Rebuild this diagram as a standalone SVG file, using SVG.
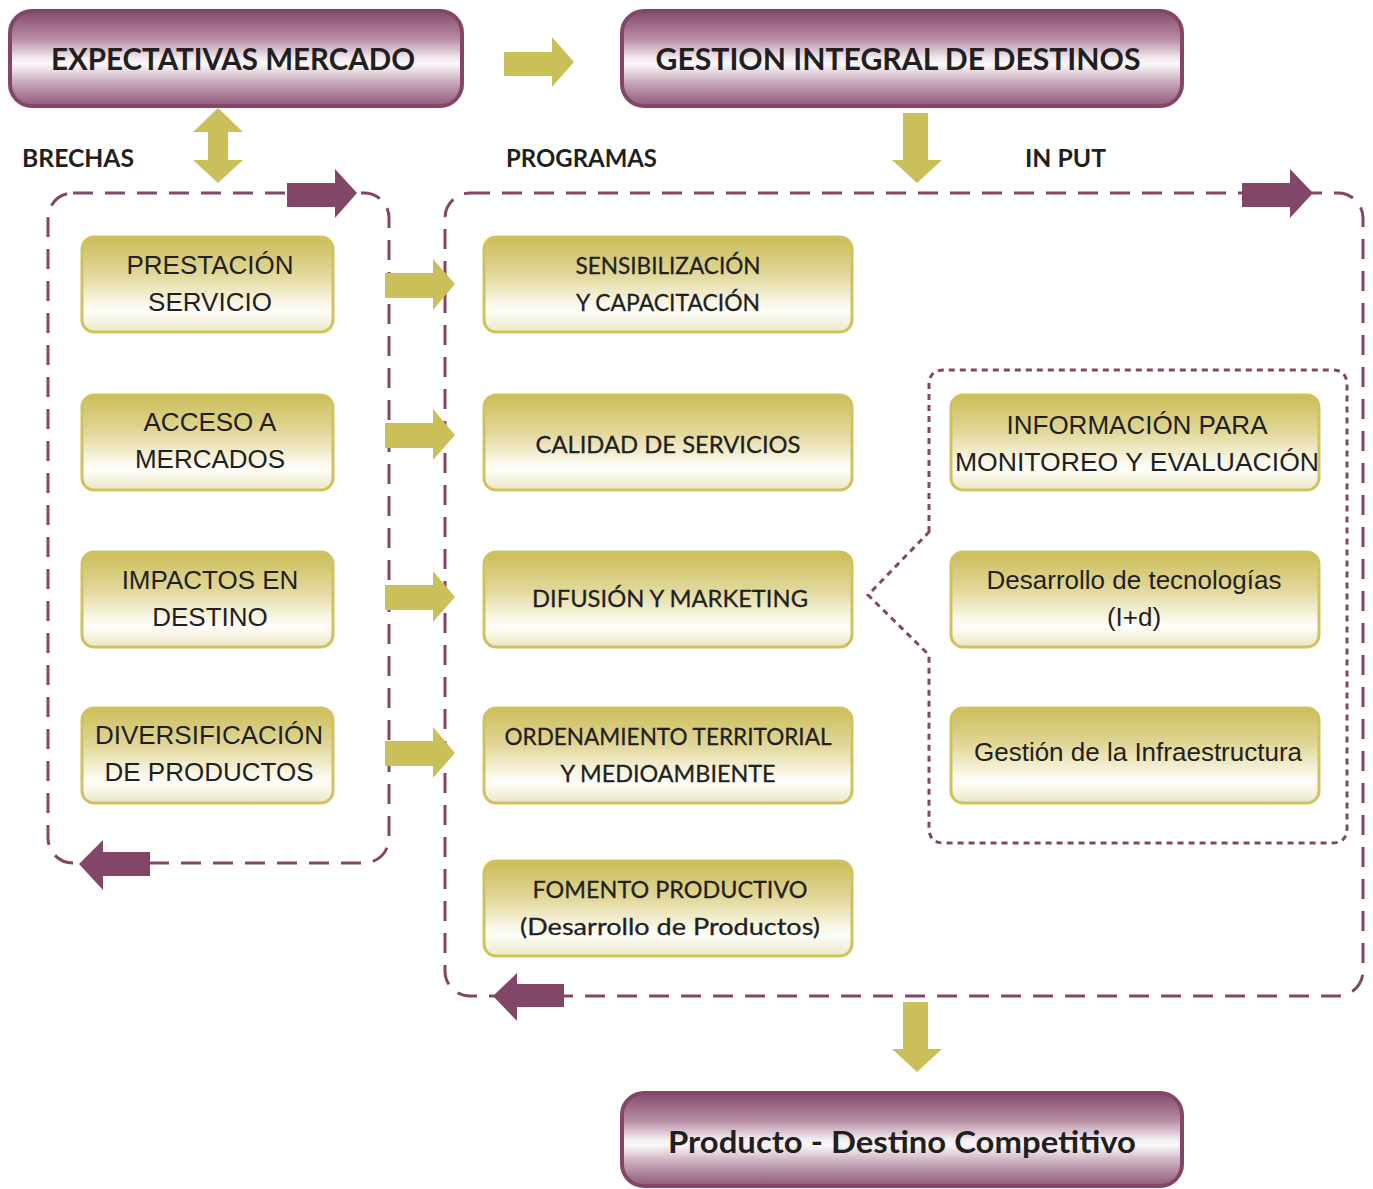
<svg xmlns="http://www.w3.org/2000/svg" width="1373" height="1189" viewBox="0 0 1373 1189">
<defs>
<linearGradient id="gp" x1="0" y1="0" x2="0" y2="1">
<stop offset="0" stop-color="#844a6c"/>
<stop offset="0.3" stop-color="#b88ea6"/>
<stop offset="0.5" stop-color="#f3ecf0"/>
<stop offset="0.56" stop-color="#fbf8fa"/>
<stop offset="0.75" stop-color="#c7a9ba"/>
<stop offset="1" stop-color="#8f5879"/>
</linearGradient>
<linearGradient id="go" x1="0" y1="0" x2="0" y2="1">
<stop offset="0" stop-color="#cbbd58"/>
<stop offset="0.4" stop-color="#e2d89b"/>
<stop offset="0.72" stop-color="#fbf9ec"/>
<stop offset="0.78" stop-color="#fefefa"/>
<stop offset="1" stop-color="#ece6c6"/>
</linearGradient>
<style>
.pbox{fill:url(#gp);stroke:#844668;stroke-width:4}
.obox{fill:url(#go);stroke:#d0c35f;stroke-width:3}
.ttl{font-family:Lato,"Open Sans",sans-serif;font-weight:bold;fill:#231f20;text-anchor:middle}
.hd{font-family:Lato,"Open Sans",sans-serif;font-weight:bold;font-size:25px;fill:#231f20}
.r{font-family:"Liberation Sans",Arial,sans-serif;font-size:26px;fill:#231f20;text-anchor:middle}
.c{font-family:Lato,"Open Sans",sans-serif;font-size:24px;fill:#231f20;text-anchor:middle;stroke:#231f20;stroke-width:0.3}
.dash{fill:none;stroke:#844668;stroke-width:3;stroke-dasharray:20 12}
.dot{fill:none;stroke:#844668;stroke-width:3;stroke-dasharray:6 5}
.oa{fill:#cbbf5a}
.pa{fill:#824668}
</style>
</defs>
<rect width="1373" height="1189" fill="#ffffff"/>

<g id="labels">
<text class="hd" x="22" y="167" textLength="112" lengthAdjust="spacingAndGlyphs">BRECHAS</text>
<text class="hd" x="506" y="167" textLength="151" lengthAdjust="spacingAndGlyphs">PROGRAMAS</text>
<text class="hd" x="1025" y="167" textLength="81" lengthAdjust="spacingAndGlyphs">IN PUT</text>
</g>

<g id="connectors">
<rect class="dash" x="48" y="193" width="341" height="670" rx="25"/>
<rect class="dash" x="445" y="193" width="918" height="803" rx="25"/>
<path class="dot" d="M929,532 L929,385 Q929,370 944,370 L1332,370 Q1347,370 1347,385 L1347,828 Q1347,843 1332,843 L944,843 Q929,843 929,828 L929,655 L868,595 Z"/>
<polygon class="oa" points="504,52 552,52 552,37 574,62 552,87 552,76 504,76"/>
<polygon class="oa" points="218,108 243,132 228,132 228,160 243,160 218,183 193,160 208,160 208,132 193,132"/>
<polygon class="oa" points="903,113 928,113 928,160 942,160 917,183 892,160 903,160"/>
<polygon class="oa" points="903,1002 928,1002 928,1049 942,1049 917,1072 892,1049 903,1049"/>
<polygon class="oa" points="385,273 433,273 433,259 455,284 433,310 433,298 385,298"/>
<polygon class="oa" points="385,423 433,423 433,409 455,435 433,460 433,448 385,448"/>
<polygon class="oa" points="385,585 433,585 433,571 455,597 433,622 433,610 385,610"/>
<polygon class="oa" points="385,741 433,741 433,727 455,753 433,778 433,766 385,766"/>
<polygon class="pa" points="287,183 335,183 335,169 357,193 335,218 335,207 287,207"/>
<polygon class="pa" points="1242,183 1290,183 1290,169 1313,193 1290,218 1290,207 1242,207"/>
<polygon class="pa" points="150,852 103,852 103,840 79,864 103,890 103,876 150,876"/>
<polygon class="pa" points="564,984 517,984 517,973 493,996 517,1021 517,1007 564,1007"/>
</g>

<g id="n-expectativas">
<rect class="pbox" x="10" y="11" width="452" height="95" rx="22"/>
<text class="ttl" x="233" y="70" font-size="30" textLength="364" lengthAdjust="spacingAndGlyphs">EXPECTATIVAS MERCADO</text>
</g>
<g id="n-gestion">
<rect class="pbox" x="622" y="11" width="560" height="95" rx="22"/>
<text class="ttl" x="898" y="70" font-size="30" textLength="485" lengthAdjust="spacingAndGlyphs">GESTION INTEGRAL DE DESTINOS</text>
</g>
<g id="n-producto">
<rect class="pbox" x="622" y="1093" width="560" height="93" rx="22"/>
<text class="ttl" x="902" y="1153" font-size="31" textLength="468" lengthAdjust="spacingAndGlyphs">Producto - Destino Competitivo</text>
</g>

<g id="n-prestacion">
<rect class="obox" x="82" y="237" width="251" height="95" rx="12"/>
<text class="r" x="210" y="274">PRESTACIÓN</text>
<text class="r" x="210" y="311">SERVICIO</text>
</g>
<g id="n-acceso">
<rect class="obox" x="82" y="395" width="251" height="95" rx="12"/>
<text class="r" x="210" y="431">ACCESO A</text>
<text class="r" x="210" y="468">MERCADOS</text>
</g>
<g id="n-impactos">
<rect class="obox" x="82" y="552" width="251" height="95" rx="12"/>
<text class="r" x="210" y="589">IMPACTOS EN</text>
<text class="r" x="210" y="626">DESTINO</text>
</g>
<g id="n-diversificacion">
<rect class="obox" x="82" y="708" width="251" height="95" rx="12"/>
<text class="r" x="209" y="744">DIVERSIFICACIÓN</text>
<text class="r" x="209" y="781">DE PRODUCTOS</text>
</g>

<g id="n-sensibilizacion">
<rect class="obox" x="484" y="237" width="368" height="95" rx="12"/>
<text class="c" x="668" y="274" textLength="185" lengthAdjust="spacingAndGlyphs">SENSIBILIZACIÓN</text>
<text class="c" x="668" y="311" textLength="184" lengthAdjust="spacingAndGlyphs">Y CAPACITACIÓN</text>
</g>
<g id="n-calidad">
<rect class="obox" x="484" y="395" width="368" height="95" rx="12"/>
<text class="c" x="668" y="453" textLength="265" lengthAdjust="spacingAndGlyphs">CALIDAD DE SERVICIOS</text>
</g>
<g id="n-difusion">
<rect class="obox" x="484" y="552" width="368" height="95" rx="12"/>
<text class="c" x="670" y="607" textLength="276" lengthAdjust="spacingAndGlyphs">DIFUSIÓN Y MARKETING</text>
</g>
<g id="n-ordenamiento">
<rect class="obox" x="484" y="708" width="368" height="95" rx="12"/>
<text class="c" x="668" y="745" textLength="327" lengthAdjust="spacingAndGlyphs">ORDENAMIENTO TERRITORIAL</text>
<text class="c" x="668" y="782" textLength="215" lengthAdjust="spacingAndGlyphs">Y MEDIOAMBIENTE</text>
</g>
<g id="n-fomento">
<rect class="obox" x="484" y="861" width="368" height="95" rx="12"/>
<text class="c" x="670" y="898" textLength="275" lengthAdjust="spacingAndGlyphs">FOMENTO PRODUCTIVO</text>
<text class="c" x="670" y="935" textLength="300" lengthAdjust="spacingAndGlyphs">(Desarrollo de Productos)</text>
</g>

<g id="n-informacion">
<rect class="obox" x="951" y="395" width="368" height="95" rx="12"/>
<text class="r" x="1137" y="434">INFORMACIÓN PARA</text>
<text class="r" x="1137" y="471" textLength="364" lengthAdjust="spacingAndGlyphs">MONITOREO Y EVALUACIÓN</text>
</g>
<g id="n-desarrollo">
<rect class="obox" x="951" y="552" width="368" height="95" rx="12"/>
<text class="r" x="1134" y="589">Desarrollo de tecnologías</text>
<text class="r" x="1134" y="626">(I+d)</text>
</g>
<g id="n-infraestructura">
<rect class="obox" x="951" y="708" width="368" height="95" rx="12"/>
<text class="r" x="1138" y="761">Gestión de la Infraestructura</text>
</g>
</svg>
